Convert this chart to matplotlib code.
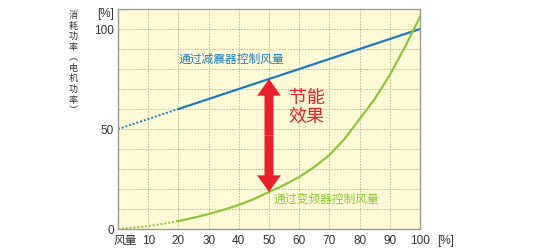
import numpy as np
import matplotlib.pyplot as plt

plt.rcParams['font.family'] = ['Liberation Sans', 'Noto Sans CJK SC', 'DejaVu Sans']

# air volume [%] and power [%], read every 5%
flow = [0, 5, 10, 15, 20, 25, 30, 35, 40, 45, 50,
        55, 60, 65, 70, 75, 80, 85, 90, 95, 100]
damper_power = [50, 52.5, 55, 57.5, 60, 62.5, 65, 67.5, 70, 72.5, 75,
                77.5, 80, 82.5, 85, 87.5, 90, 92.5, 95, 97.5, 100]
inverter_power = [0, 0.7, 1.5, 2.6, 4, 5.6, 7.5, 9.6, 12, 15, 18.5,
                  22, 26, 31, 37, 45, 55, 65, 77, 91, 106]
xticks = [0, 10, 20, 30, 40, 50, 60, 70, 80, 90, 100]
xtick_labels = ['', '10', '20', '30', '40', '50', '60', '70', '80', '90', '100']
ytick_values = [0, 50, 100]

blue = '#1b7cc2'
green = '#8dc63f'
red = '#e8202a'
text_gray = '#333333'

fig = plt.figure(figsize=(5.4, 2.5), dpi=100)
ax = fig.add_axes([0.2185, 0.084, 0.5593, 0.88])
ax.set_facecolor('#fffad5')

# dotted part at low flow, solid after 20%
k = flow.index(20)
ax.plot(flow[:k + 1], damper_power[:k + 1], color=blue, lw=1.4, ls=(0, (1, 1)))
ax.plot(flow[k:], damper_power[k:], color=blue, lw=1.6)
ax.plot(flow[:k + 1], inverter_power[:k + 1], color=green, lw=1.4, ls=(0, (1, 1)))
ax.plot(flow[k:], inverter_power[k:], color=green, lw=1.6)

ax.set_xlim(0, 100)
ax.set_ylim(0, 110)
ax.set_xticks(xticks)
ax.set_xticklabels(xtick_labels)
ax.set_yticks(ytick_values)
ax.set_yticks(np.arange(0, 110, 10), minor=True)
ax.tick_params(length=0, which='both', labelsize=8.5, colors=text_gray, pad=3)
ax.tick_params(axis='x', pad=4.5)
ax.grid(True, which='both', color='#bdb596', lw=0.7, ls=(0, (1.5, 1.5)))
ax.set_axisbelow(True)
for s in ax.spines.values():
    s.set_color('#9a9a9a')
    s.set_linewidth(1.0)

# saving effect arrow at 50% flow
i = flow.index(50)
mid = flow[i]
top = damper_power[i]
bot = inverter_power[i]
center = (top + bot) / 2
for end in (top, bot):
    ax.annotate('', xy=(mid, end), xytext=(mid, center),
                arrowprops=dict(arrowstyle='simple,head_length=12,head_width=17,tail_width=6.5',
                                mutation_scale=1, color=red, lw=0,
                                shrinkA=0, shrinkB=0))

ax.text(56.5, 60.5, '节能\n效果', color=red, fontsize=13, ha='left', va='center',
        linespacing=1.1)
ax.text(20, 84.5, '通过减震器控制风量', color=blue, fontsize=8.5, ha='left', va='center')
ax.text(51.5, 14.5, '通过变频器控制风量', color=green, fontsize=8.5, ha='left', va='center')

ax.annotate('[%]', xy=(0, 107.5), xycoords=('axes fraction', 'data'),
            xytext=(-3, 0), textcoords='offset points',
            ha='right', va='center', fontsize=8.5, color=text_gray)
ax.annotate('风量', xy=(0, 0), xycoords='axes fraction',
            xytext=(-3.5, -4.5), textcoords='offset points',
            ha='left', va='top', fontsize=8.5, color=text_gray)
ax.text(108.5, -6, '[%]', ha='center', va='center', fontsize=8.5, color=text_gray,
        clip_on=False)

ylabel = '消耗功率︵电机功率︶'
fig.text(73 / 540, 1 - 11 / 250, '\n'.join(ylabel), ha='center', va='top',
         fontsize=6.5, color=text_gray, linespacing=1.22)

fig.savefig('out.png', dpi=100)
